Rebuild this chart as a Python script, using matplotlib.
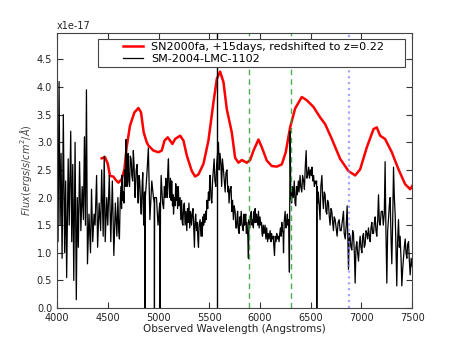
import matplotlib
matplotlib.use("Agg")
import matplotlib.pyplot as plt
from matplotlib.legend_handler import HandlerLine2D
from matplotlib.lines import Line2D

# SN2000fa template (redshifted), flux in 1e-17 units
sn_wave = [4440, 4473, 4500, 4522, 4555, 4578, 4604, 4637, 4664, 4686, 4719, 4762,
           4802, 4828, 4854, 4884, 4901, 4950, 4999, 5032, 5059, 5091, 5114, 5137,
           5164, 5213, 5246, 5279, 5328, 5361, 5394, 5443, 5492, 5542, 5575, 5607,
           5640, 5673, 5722, 5755, 5788, 5821, 5870, 5903, 5936, 5985, 6018, 6067,
           6116, 6166, 6215, 6254, 6297, 6346, 6412, 6462, 6527, 6593, 6642, 6708,
           6790, 6872, 6938, 6987, 7053, 7119, 7151, 7184, 7233, 7299, 7365, 7431,
           7480, 7500]
sn_flux = [2.71, 2.73, 2.61, 2.39, 2.38, 2.32, 2.27, 2.33, 2.51, 2.91, 3.30, 3.54,
           3.62, 3.54, 3.18, 3.00, 2.94, 2.85, 2.82, 2.85, 3.03, 3.09, 3.03, 2.97,
           3.06, 3.12, 3.03, 2.76, 2.48, 2.38, 2.42, 2.61, 3.03, 3.73, 4.15, 4.28,
           4.09, 3.60, 3.18, 2.72, 2.63, 2.68, 2.63, 2.68, 2.85, 3.05, 2.91, 2.67,
           2.57, 2.56, 2.60, 2.82, 3.27, 3.61, 3.82, 3.76, 3.64, 3.45, 3.33, 3.06,
           2.70, 2.48, 2.40, 2.51, 2.91, 3.24, 3.27, 3.12, 3.06, 2.82, 2.51, 2.24,
           2.15, 2.21]

# SM-2004-LMC-1102 observed spectrum, flux in 1e-17 units
obs_wave = [4000, 4010, 4020, 4030, 4040, 4050, 4062, 4075, 4085, 4095, 4110, 4120,
            4135, 4145, 4155, 4165, 4178, 4190, 4200, 4210, 4222, 4235, 4248, 4260,
            4270, 4280, 4290, 4300, 4315, 4330, 4340, 4352, 4365, 4375, 4390, 4400,
            4415, 4430, 4440, 4455, 4465, 4475, 4490, 4500, 4515, 4530, 4545, 4560,
            4575, 4590,
            4600, 4608, 4615, 4622, 4630, 4636, 4640, 4648, 4655, 4660, 4665, 4672,
            4680, 4686, 4690, 4695, 4700, 4707, 4715, 4722, 4730, 4737, 4745, 4752,
            4760, 4765, 4770, 4780, 4790, 4795, 4800, 4808, 4815, 4822, 4830, 4838,
            4845, 4850, 4855, 4862, 4866, 4868, 4870,
            4885, 4900, 4915, 4934, 4950, 4958, 4960, 4962, 4980, 4995, 5012,
            5016,
            5020, 5026, 5032, 5040, 5050, 5058, 5065, 5072, 5078, 5085, 5092, 5098,
            5104, 5110, 5118, 5124, 5130, 5138, 5144, 5148, 5156, 5163, 5170, 5175,
            5180, 5188, 5195, 5202, 5213, 5220, 5228, 5234, 5240, 5248, 5255, 5262,
            5270, 5279, 5286, 5293, 5300, 5308, 5316, 5325, 5332, 5340, 5347, 5354,
            5360, 5366, 5375, 5382, 5388, 5394, 5400, 5410, 5418, 5425, 5430, 5438,
            5445, 5450, 5458, 5465, 5470, 5478, 5485, 5492, 5500, 5505, 5510, 5517,
            5525, 5533, 5540, 5548, 5556, 5565, 5573, 5582, 5591, 5598, 5606, 5615,
            5622, 5630, 5640, 5648, 5657, 5665, 5675, 5683, 5690, 5695, 5705, 5715,
            5722, 5730, 5738, 5746,
            5755, 5762, 5770, 5776, 5780, 5788, 5795, 5802, 5808, 5815, 5822, 5828,
            5835, 5842, 5848, 5855, 5860, 5866, 5872, 5880, 5886, 5892, 5900, 5908,
            5915, 5922, 5928, 5935, 5942, 5948, 5952, 5960, 5966, 5972, 5978, 5985,
            5992, 6000, 6008, 6015, 6020, 6025, 6032, 6040, 6050, 6058, 6066, 6075,
            6082, 6090, 6100, 6108, 6114, 6120, 6130, 6136, 6143, 6150, 6158, 6165,
            6172, 6180, 6188, 6195, 6202, 6208, 6215, 6222, 6228, 6232, 6238, 6248,
            6255, 6262, 6270, 6275, 6282, 6290, 6297,
            6304, 6312, 6320, 6328, 6338, 6345, 6352, 6360, 6368, 6378, 6385, 6395,
            6402, 6412, 6420, 6430, 6438, 6446, 6455, 6462, 6470, 6480, 6488, 6496,
            6505, 6512, 6520, 6528, 6536, 6544, 6552, 6558, 6560, 6562, 6570, 6575,
            6585, 6592, 6600, 6610, 6618, 6625, 6634, 6642, 6650, 6658, 6666, 6675,
            6683, 6691, 6700, 6708, 6716, 6724, 6732, 6741, 6750, 6760, 6770, 6780,
            6790, 6800, 6810, 6823, 6830, 6840, 6850, 6859, 6865, 6872, 6880, 6888,
            6896, 6905, 6913, 6921, 6930, 6938, 6946, 6954, 6962, 6971, 6979, 6987,
            6995, 7004, 7012, 7020, 7028, 7036, 7045, 7053, 7061, 7069, 7078, 7086,
            7094, 7102, 7110, 7119, 7127, 7135, 7143, 7151, 7160, 7168, 7176, 7184,
            7195, 7207, 7215, 7225, 7233, 7241, 7250, 7258, 7266, 7274, 7283, 7291,
            7299, 7308, 7316, 7324, 7332, 7340, 7348, 7356, 7365, 7373, 7381, 7390,
            7398, 7406, 7414, 7422, 7431, 7439, 7447, 7455, 7464, 7472, 7480, 7490,
            7500]
obs_flux = [1.90, 1.20, 4.10, 1.50, 2.80, 0.90, 3.50, 1.00, 2.30, 0.55, 2.70, 1.50,
            3.20, 1.20, 2.60, 0.50, 3.00, 0.15, 2.00, 1.10, 2.65, 1.40, 2.20, 1.60,
            3.10, 1.50, 3.95, 0.80, 1.70, 1.00, 2.15, 1.20, 1.70, 1.50, 2.40, 1.10,
            1.90, 1.40, 2.50, 1.30, 2.75, 1.20, 2.00, 1.50, 2.40, 1.20, 2.30, 0.95,
            1.90, 1.30,
            2.00, 1.40, 1.25, 1.90, 2.20, 1.80, 2.40, 1.95, 2.10, 1.90, 2.50, 2.20,
            3.05, 2.40, 2.20, 2.60, 2.80, 2.30, 2.20, 2.75, 2.70, 2.40, 2.30, 2.85,
            2.55, 2.20, 2.00, 2.50, 2.60, 2.10, 1.90, 2.40, 2.30, 1.95, 1.70, 2.20,
            2.45, 1.80, 1.50, 2.10, 2.10, 0.00, 2.00,
            2.40, 2.90, 1.60, 2.30, 2.00, 1.90, 0.00, 2.00, 2.00, 1.50, 1.90,
            0.00,
            1.90, 2.40, 2.20, 1.90, 1.80, 2.20, 2.00, 2.35, 2.10, 2.00, 2.50, 2.70,
            2.20, 2.00, 2.35, 1.95, 2.30, 1.85, 2.05, 1.70, 2.00, 1.85, 2.25, 1.95,
            2.20, 1.80, 2.20, 1.85, 2.00, 1.60, 1.95, 1.55, 1.50, 1.85, 1.90, 1.50,
            1.75, 1.40, 1.80, 1.55, 1.90, 1.45, 1.75, 1.50, 1.70, 1.80, 1.45, 1.10,
            1.55, 1.70, 1.40, 1.55, 1.25, 1.10, 1.50, 1.60, 1.30, 1.55, 1.30, 1.65,
            1.50, 1.70, 1.55, 1.75, 1.60, 1.95, 1.80, 2.10, 1.95, 2.40, 2.40, 2.00,
            1.90, 2.30, 2.50, 2.70, 2.30, 2.20, 2.60, 2.80, 3.00, 2.50, 2.80, 2.60,
            2.20, 2.70, 2.50, 2.30, 2.10, 2.45, 2.50, 2.10, 2.20, 1.90, 2.15, 2.20,
            1.75, 1.95, 1.60, 1.85,
            1.75, 1.45, 1.45, 1.70, 1.75, 1.40, 1.35, 1.65, 1.50, 1.75, 1.55, 1.45,
            1.40, 1.70, 1.50, 1.65, 1.70, 1.35, 1.55, 1.30, 0.90, 1.60, 1.45, 1.70,
            1.75, 1.50, 1.60, 1.45, 1.75, 1.55, 1.80, 1.55, 1.70, 1.60, 1.50, 1.75,
            1.45, 1.65, 1.50, 1.55, 1.35, 1.30, 1.50, 1.35, 1.50, 1.25, 1.45, 1.20,
            1.35, 1.25, 1.40, 1.20, 1.35, 1.25, 1.30, 1.15, 0.95, 1.30, 1.20, 1.35,
            1.25, 1.30, 1.20, 1.35, 1.45, 1.30, 1.55, 1.40, 1.35, 1.00, 1.55, 1.75,
            1.45, 1.55, 1.70, 1.50, 1.60, 0.65, 3.20,
            2.00, 1.90, 2.20, 2.00, 2.30, 1.90, 1.85, 2.20, 2.05, 2.30, 2.10, 2.40,
            2.20, 2.10, 2.40, 2.30, 2.15, 2.55, 2.85, 2.35, 2.40, 2.55, 2.35, 2.50,
            2.40, 2.55, 2.30, 2.40, 2.20, 2.30, 2.25, 2.30, 0.00, 2.20, 1.90, 2.10,
            1.80, 1.60, 2.20, 2.40, 2.00, 1.80, 2.10, 2.05, 1.75, 1.70, 1.95, 1.90,
            1.65, 1.50, 1.80, 1.75, 1.55, 1.40, 1.65, 1.60, 1.45, 1.30, 1.55, 1.60,
            1.40, 1.40, 1.55, 1.75, 1.35, 1.25, 1.50, 1.85, 1.30, 0.70, 1.35, 1.30,
            1.10, 1.05, 1.40, 1.35, 1.00, 0.45, 1.10, 1.20, 1.00, 0.85, 1.15, 1.30,
            1.10, 1.00, 1.30, 1.35, 1.10, 1.15, 1.40, 1.35, 1.25, 1.45, 1.30, 1.20,
            1.45, 1.55, 1.35, 1.35, 1.55, 1.65, 1.40, 1.30, 1.60, 2.05, 1.55, 1.50,
            1.75, 1.75, 1.50, 1.70, 2.65, 1.40, 0.45, 1.40, 1.60, 1.85, 2.00, 1.30,
            0.80, 1.60, 2.55, 2.00, 1.70, 1.10, 0.40, 1.20, 1.60, 1.10, 1.30, 0.90,
            0.40, 0.70, 0.90, 1.10, 1.25, 1.00, 0.90, 1.15, 1.20, 0.85, 0.60, 0.90,
            0.75]

sky_line = 5577
green_lines = [5893, 6303]
blue_line = 6877

x_ticks = [4000, 4500, 5000, 5500, 6000, 6500, 7000, 7500]
y_ticks = [0.0, 0.5, 1.0, 1.5, 2.0, 2.5, 3.0, 3.5, 4.0, 4.5]


class ShortLine(HandlerLine2D):
    """Legend handle whose line is drawn only in the right part of its box."""
    def create_artists(self, legend, orig_handle, xdescent, ydescent,
                       width, height, fontsize, trans):
        arts = super().create_artists(legend, orig_handle, xdescent, ydescent,
                                      width, height, fontsize, trans)
        for a in arts:
            yd = list(a.get_ydata())
            if isinstance(a, Line2D) and len(yd) >= 2:
                y0 = yd[0]
                a.set_data([-xdescent + 0.50 * width, -xdescent + 0.95 * width],
                           [y0, y0])
        return arts


plt.rcParams['font.family'] = ['DejaVu Sans']
fig = plt.figure(figsize=(4.58, 3.43), dpi=100, facecolor='white')
ax = fig.add_axes([0.1245, 0.102, 0.7755, 0.802])

ax.plot(sn_wave, sn_flux, color='red', lw=1.8,
        label='SN2000fa, +15days, redshifted to z=0.22')
ax.plot(obs_wave, obs_flux, color='black', lw=0.9, label='SM-2004-LMC-1102')
ax.axvline(sky_line, color='black', lw=1.0)
for g in green_lines:
    ax.axvline(g, color='#2ca02c', lw=1.0, ls=(0, (4, 3)), alpha=0.85)
ax.axvline(blue_line, color='#8080ff', lw=1.6, ls=':', alpha=0.7)

ax.set_xlim(4000, 7500)
ax.set_ylim(0, 4.98)
ax.set_xticks(x_ticks)
ax.set_yticks(y_ticks)
ax.set_yticklabels([f'{v:.1f}' for v in y_ticks])
ax.tick_params(direction='in', top=True, right=True, labelsize=7, length=4,
               colors='#333333', labelcolor='#222222')
ax.set_xlabel('Observed Wavelength (Angstroms)', fontsize=7.5, color='#222222', labelpad=1)
ax.set_ylabel(r'$Flux(ergs/s/cm^2/\AA)$', fontsize=7, color='#444444', labelpad=2)
ax.text(0.0, 1.008, 'x1e-17', transform=ax.transAxes, fontsize=7,
        ha='left', va='bottom', color='#222222')
for s in ax.spines.values():
    s.set_color('#444444')

leg = ax.legend(loc='upper left', bbox_to_anchor=(0.1155, 0.0, 0.8645, 0.978),
                mode='expand', fontsize=8, fancybox=False, framealpha=1,
                edgecolor='#444444', borderpad=0.3, labelspacing=0.15,
                handlelength=3.9, handletextpad=0.6, borderaxespad=0.0,
                handler_map={Line2D: ShortLine()})
leg.get_frame().set_linewidth(0.8)

fig.savefig('out.png', dpi=100, facecolor='white')
